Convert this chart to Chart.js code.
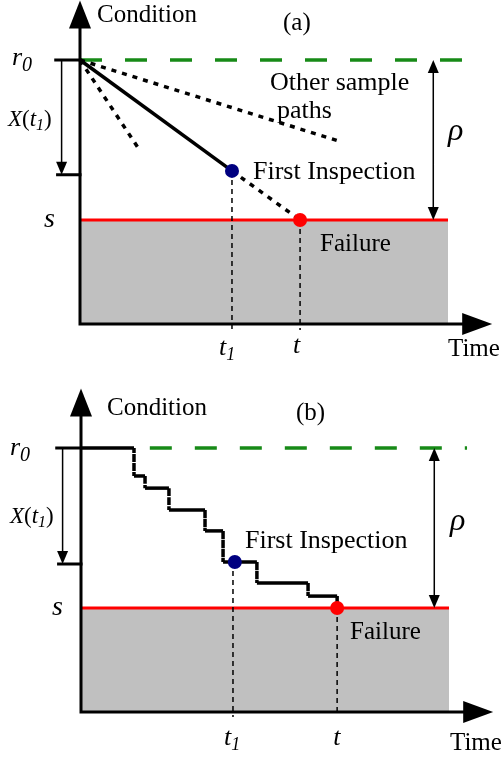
<!DOCTYPE html>
<html>
<head>
<meta charset="utf-8">
<script src="https://cdn.jsdelivr.net/npm/chart.js@4.4.1/dist/chart.umd.min.js"></script>
<style>
  body { margin: 0; background: #fff; }
  canvas { display: block; }
</style>
</head>
<body>
<canvas id="chartA" width="504" height="380"></canvas>
<canvas id="chartB" width="504" height="378"></canvas>
<script>
// condition levels, shared by both panels
const r0 = 10;
const failLevel = 3.94;
const regionEnd = 10;
const axisEndTime = 11.2;
const axisEndCond = 12.25;

// panel (a): continuous degradation path [time, condition]
const pathTimeA = [0, 4.13, 5.98];
const pathCondA = [10, 5.80, 3.94];
const otherEndTime = [7.12, 1.58];
const otherEndCond = [6.89, 6.67];
const xt1LevelA = 5.65;

// panel (b): jump process, one entry per level
const stepTime = [0, 1.44, 1.74, 2.39, 3.37, 3.86, 4.78, 6.17, 6.96];
const stepCond = [10, 8.94, 8.48, 7.65, 6.86, 5.68, 4.89, 4.39, 3.94];
const inspectTimeB = 4.13;
const xt1LevelB = 5.61;

const SERIF = '"Liberation Serif", "Times New Roman", serif';
const PX_T = 36.8, PX_C = 26.4;

function pts(xs, ys) {
  return xs.map((x, i) => ({ x: x, y: ys[i] }));
}

function line(data, extra) {
  return Object.assign({
    data: data, showLine: true, pointRadius: 0, clip: false,
    borderColor: '#000', borderWidth: 3.5, fill: false
  }, extra);
}

function dot(x, y, color) {
  return {
    data: [{ x: x, y: y }], showLine: false, pointRadius: 7,
    pointBackgroundColor: color, pointBorderWidth: 0, clip: false, order: 0
  };
}

function head(ctx, tx, ty, dx, dy, len, half) {
  const bx = tx - dx * len, by = ty - dy * len;
  ctx.beginPath();
  ctx.moveTo(tx, ty);
  ctx.lineTo(bx - dy * half, by + dx * half);
  ctx.lineTo(bx + dy * half, by - dx * half);
  ctx.closePath();
  ctx.fill();
}

function rich(ctx, parts, x, y) {
  parts.forEach(p => {
    ctx.font = (p[2] ? 'italic ' : '') + p[1] + 'px ' + SERIF;
    ctx.fillText(p[0], x, y + (p[3] || 0));
    x += ctx.measureText(p[0]).width;
  });
}

function schematic(cfg) {
  return {
    id: 'schematic',
    afterDatasetsDraw(chart) {
      const ctx = chart.ctx;
      const px = v => chart.scales.x.getPixelForValue(v);
      const py = v => chart.scales.y.getPixelForValue(v);
      const x0 = px(0), y0 = py(0);
      ctx.save();
      ctx.fillStyle = '#000';
      ctx.strokeStyle = '#000';

      // axes with arrow heads
      ctx.lineWidth = 3;
      ctx.beginPath();
      ctx.moveTo(x0, y0 + 1.5); ctx.lineTo(x0, py(axisEndCond) + 20);
      ctx.moveTo(x0 - 1.5, y0); ctx.lineTo(px(axisEndTime) - 20, y0);
      ctx.stroke();
      head(ctx, x0, py(axisEndCond), 0, -1, 28, 11);
      head(ctx, px(axisEndTime), y0, 1, 0, 30, 11);

      // ticks at r0 and at r0 - X(t1)
      ctx.beginPath();
      ctx.moveTo(px(-0.7), py(r0)); ctx.lineTo(x0, py(r0));
      ctx.moveTo(px(-0.65), py(cfg.xt1)); ctx.lineTo(x0 + 1.5, py(cfg.xt1));
      ctx.stroke();

      // X(t1) and rho arrows
      ctx.lineWidth = 1.5;
      ctx.beginPath();
      ctx.moveTo(px(-0.5), py(r0)); ctx.lineTo(px(-0.5), py(cfg.xt1) - 10);
      ctx.moveTo(px(9.6), py(r0) + 10); ctx.lineTo(px(9.6), py(failLevel) - 10);
      ctx.stroke();
      head(ctx, px(-0.5), py(cfg.xt1), 0, 1, 13, 5.5);
      head(ctx, px(9.6), py(r0), 0, -1, 13, 5.5);
      head(ctx, px(9.6), py(failLevel), 0, 1, 13, 5.5);

      // texts
      ctx.textBaseline = 'alphabetic';
      cfg.labels(px, py).forEach(l => rich(ctx, l.parts, l.x, l.y));
      ctx.restore();
    }
  };
}

function build(id, cfg) {
  return new Chart(document.getElementById(id), {
    type: 'scatter',
    data: { datasets: cfg.datasets },
    options: {
      responsive: false,
      animation: false,
      devicePixelRatio: 1,
      events: [],
      layout: { padding: 0, autoPadding: false },
      plugins: { legend: { display: false }, tooltip: { enabled: false } },
      scales: {
        x: { type: 'linear', display: false, min: -cfg.ox / PX_T, max: (504 - cfg.ox) / PX_T },
        y: { type: 'linear', display: false, min: -(cfg.h - cfg.oy) / PX_C, max: cfg.oy / PX_C }
      }
    },
    plugins: [schematic(cfg)]
  });
}

function failRegion() {
  return line([{ x: 0, y: failLevel }, { x: regionEnd, y: failLevel }], {
    borderColor: '#ff0000', borderWidth: 3, backgroundColor: '#c0c0c0', fill: 'origin', order: 9
  });
}

// ---------- panel (a)
const t1A = pathTimeA[1], tA = pathTimeA[2];
build('chartA', {
  ox: 80, oy: 324, h: 380, xt1: xt1LevelA,
  datasets: [
    dot(t1A, pathCondA[1], '#000080'),
    dot(tA, failLevel, '#ff0000'),
    line([{ x: t1A, y: pathCondA[1] }, { x: t1A, y: -0.23 }], { borderWidth: 1.5, borderDash: [5, 4], order: 2 }),
    line([{ x: tA, y: failLevel }, { x: tA, y: -0.23 }], { borderWidth: 1.5, borderDash: [5, 4], order: 2 }),
    line(pts(pathTimeA, pathCondA), {
      order: 3,
      segment: { borderDash: c => c.p0DataIndex >= 1 ? [5, 6] : undefined }
    }),
    line([{ x: 0, y: r0 }, { x: otherEndTime[0], y: otherEndCond[0] }], { borderDash: [5, 6], order: 4 }),
    line([{ x: 0, y: r0 }, { x: otherEndTime[1], y: otherEndCond[1] }], { borderDash: [5, 6], order: 4 }),
    line([{ x: 0, y: r0 }, { x: 10.38, y: r0 }], { borderColor: '#178a17', borderDash: [22, 23], order: 5 }),
    failRegion()
  ],
  labels: (px, py) => [
    { x: 97, y: 22, parts: [['Condition', 25]] },
    { x: 283, y: 30, parts: [['(a)', 25]] },
    { x: 12, y: py(r0) + 5, parts: [['r', 26, true], ['0', 20, true, 6]] },
    { x: 44, y: py(failLevel) + 7, parts: [['s', 28, true]] },
    { x: 8, y: 126, parts: [['X', 23, true], ['(', 23], ['t', 23, true], ['1', 16, true, 4], [')', 23]] },
    { x: 270, y: 90, parts: [['Other sample', 26]] },
    { x: 277, y: 118, parts: [['paths', 26]] },
    { x: 253, y: 179, parts: [['First Inspection', 26]] },
    { x: 320, y: 251, parts: [['Failure', 25]] },
    { x: 448, y: 140, parts: [['ρ', 32, true]] },
    { x: px(t1A) - 13, y: py(0) + 31, parts: [['t', 26, true], ['1', 18, true, 5]] },
    { x: px(tA) - 7, y: py(0) + 29, parts: [['t', 26, true]] },
    { x: 448, y: 356, parts: [['Time', 25]] }
  ]
});

// ---------- panel (b)
const stairs = [];
for (let i = 0; i < stepTime.length; i++) {
  stairs.push({ x: stepTime[i], y: stepCond[i] });
  if (i < stepTime.length - 1) stairs.push({ x: stepTime[i + 1], y: stepCond[i] });
}
const tB = stepTime[stepTime.length - 1];
build('chartB', {
  ox: 81, oy: 332, h: 378, xt1: xt1LevelB,
  datasets: [
    dot(inspectTimeB + 0.05, stepCond[5], '#000080'),
    dot(tB, failLevel, '#ff0000'),
    line([{ x: inspectTimeB, y: stepCond[5] }, { x: inspectTimeB, y: -0.19 }], { borderWidth: 1.5, borderDash: [5, 4], order: 2 }),
    line([{ x: tB, y: failLevel }, { x: tB, y: 0 }], { borderWidth: 1.5, borderDash: [5, 4], order: 2 }),
    line(stairs, {
      order: 3,
      segment: { borderDash: c => stairs[c.p0DataIndex].x === stairs[c.p1DataIndex].x ? [5, 4] : undefined }
    }),
    line([{ x: 1.87, y: r0 }, { x: 10.49, y: r0 }], { borderColor: '#178a17', borderDash: [22, 23], order: 5 }),
    failRegion()
  ],
  labels: (px, py) => [
    { x: 107, y: 35, parts: [['Condition', 25]] },
    { x: 296, y: 40, parts: [['(b)', 25]] },
    { x: 10, y: py(r0) + 7, parts: [['r', 26, true], ['0', 20, true, 6]] },
    { x: 52, y: py(failLevel) + 7, parts: [['s', 28, true]] },
    { x: 10, y: 143, parts: [['X', 23, true], ['(', 23], ['t', 23, true], ['1', 16, true, 4], [')', 23]] },
    { x: 245, y: 168, parts: [['First Inspection', 26]] },
    { x: 350, y: 259, parts: [['Failure', 25]] },
    { x: 450, y: 150, parts: [['ρ', 32, true]] },
    { x: px(inspectTimeB) - 9, y: py(0) + 33, parts: [['t', 26, true], ['1', 18, true, 5]] },
    { x: px(tB) - 4, y: py(0) + 33, parts: [['t', 26, true]] },
    { x: 450, y: 370, parts: [['Time', 25]] }
  ]
});
</script>
</body>
</html>
